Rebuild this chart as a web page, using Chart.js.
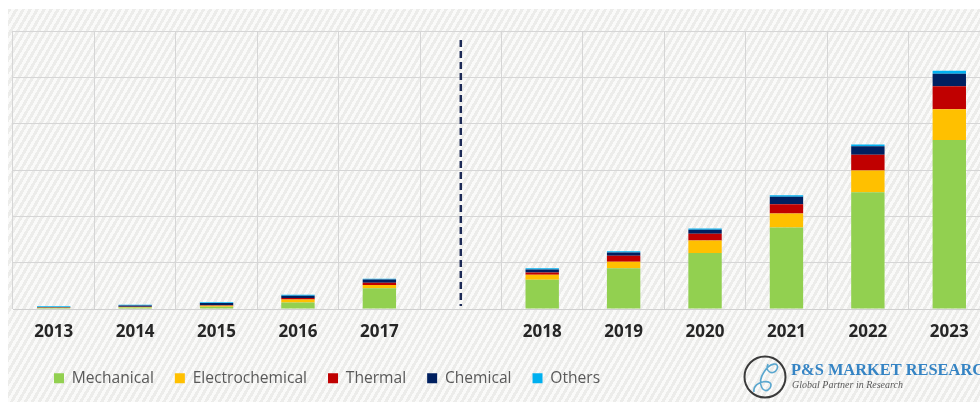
<!DOCTYPE html>
<html>
<head>
<meta charset="utf-8">
<title>Energy storage market by type</title>
<script src="https://cdn.jsdelivr.net/npm/chart.js@4.4.1/dist/chart.umd.min.js"></script>
<style>
  html, body { margin: 0; padding: 0; background: #ffffff; overflow: hidden; }
  #wrap { position: relative; width: 980px; height: 402px; overflow: hidden; }
  #hatch {
    position: absolute; left: 8px; top: 9px; width: 1000px; height: 400px;
    background: repeating-linear-gradient(120deg, #ececea 0px, #ececea 3px, #fafaf9 3px, #fafaf9 6px);
  }
  #chart { position: absolute; left: 0; top: 0; }
</style>
</head>
<body>
<div id="wrap">
  <div id="hatch"></div>
  <canvas id="chart" width="1000" height="402"></canvas>
</div>
<script>
// Years, with an empty slot between the historical and forecast periods
const years = ["2013", "2014", "2015", "2016", "2017", "", "2018", "2019", "2020", "2021", "2022", "2023"];

const mechanical      = [0.2, 0.35, 0.5, 1.4, 4.5, null, 6.3, 8.8, 12.1, 17.6, 25.2, 36.5];
const electrochemical = [0.05, 0.1, 0.2, 0.65, 0.7, null, 1.1, 1.4, 2.7, 3.0, 4.7, 6.6];
const thermal         = [0.05, 0.05, 0.1, 0.3, 0.45, null, 0.5, 1.3, 1.45, 2.0, 3.4, 5.0];
const chemical        = [0.15, 0.25, 0.5, 0.5, 0.7, null, 0.6, 0.7, 0.85, 1.6, 1.8, 2.7];
const others          = [0.15, 0.15, 0.15, 0.2, 0.2, null, 0.3, 0.25, 0.3, 0.37, 0.43, 0.6];

const yMax = 60;
const yStep = 10;
const splitIndex = 5; // the blank slot where the dashed divider sits

const series = [
  { label: "Mechanical", data: mechanical, color: "#92d050" },
  { label: "Electrochemical", data: electrochemical, color: "#ffc000" },
  { label: "Thermal", data: thermal, color: "#c00000" },
  { label: "Chemical", data: chemical, color: "#002060" },
  { label: "Others", data: others, color: "#00b0f0" },
];

// Dashed divider between actual and forecast years
const dividerPlugin = {
  id: "divider",
  afterDatasetsDraw(chart) {
    const { ctx, chartArea, scales } = chart;
    const x = scales.x.getPixelForValue(splitIndex);
    ctx.save();
    ctx.strokeStyle = "#1c2a56";
    ctx.lineWidth = 2.5;
    ctx.setLineDash([7, 4]);
    ctx.beginPath();
    ctx.moveTo(x, chartArea.top + 9);
    ctx.lineTo(x, chartArea.bottom - 3);
    ctx.stroke();
    ctx.restore();
  },
};

// Nudge the legend row so it starts under the first bars
const legendShift = {
  id: "legendShift",
  afterLayout(chart) {
    const lg = chart.legend;
    if (lg) {
      lg.left += 20;
      lg.top -= 6;
      lg.bottom -= 6;
    }
  },
};

// Company logo in the bottom right corner
const logoPlugin = {
  id: "logo",
  afterDraw(chart) {
    const ctx = chart.ctx;
    ctx.save();
    // ring
    ctx.strokeStyle = "#3a3a3a";
    ctx.lineWidth = 2;
    ctx.beginPath();
    ctx.arc(765, 377, 20.5, 0, Math.PI * 2);
    ctx.stroke();
    // loop mark
    ctx.strokeStyle = "#5aa7cf";
    ctx.lineWidth = 1.6;
    ctx.beginPath();
    ctx.moveTo(754, 392);
    ctx.bezierCurveTo(752, 380, 776, 378, 770, 388);
    ctx.bezierCurveTo(764, 396, 756, 384, 764, 372);
    ctx.bezierCurveTo(770, 362, 780, 362, 777, 369);
    ctx.bezierCurveTo(774, 376, 764, 372, 768, 364);
    ctx.stroke();
    // name
    ctx.fillStyle = "#3584c4";
    ctx.font = "bold 16.4px 'Liberation Serif', serif";
    ctx.textBaseline = "alphabetic";
    ctx.fillText("P&S MARKET RESEARCH", 791, 375);
    ctx.fillStyle = "#5a5a5a";
    ctx.font = "italic 10px 'Liberation Serif', serif";
    ctx.fillText("Global Partner in Research", 792, 388);
    ctx.restore();
  },
};

const ctx = document.getElementById("chart").getContext("2d");
new Chart(ctx, {
  type: "bar",
  data: {
    labels: years,
    datasets: series.map((s) => ({
      label: s.label,
      data: s.data,
      backgroundColor: s.color,
      borderWidth: 0,
      barPercentage: 0.41,
      categoryPercentage: 1,
    })),
  },
  options: {
    responsive: false,
    animation: false,
    layout: {
      padding: { left: 13, right: 10, top: 31, bottom: 0 },
    },
    scales: {
      x: {
        stacked: true,
        grid: { color: "#d6d6d6", lineWidth: 1, drawTicks: false },
        border: { color: "#d0d0d0" },
        ticks: {
          padding: 13,
          color: "#262626",
          font: { family: "'Open Sans', sans-serif", size: 17, weight: "bold" },
        },
      },
      y: {
        stacked: true,
        min: 0,
        max: yMax,
        ticks: { display: false, stepSize: yStep },
        grid: { color: "#d6d6d6", lineWidth: 1, drawTicks: false },
        border: { display: false },
      },
    },
    plugins: {
      legend: {
        position: "bottom",
        align: "start",
        labels: {
          boxWidth: 10,
          boxHeight: 10,
          padding: 21,
          color: "#595959",
          font: { family: "'Open Sans', sans-serif", size: 15.6 },
        },
      },
      tooltip: { enabled: false },
    },
  },
  plugins: [dividerPlugin, legendShift, logoPlugin],
});
</script>
</body>
</html>
